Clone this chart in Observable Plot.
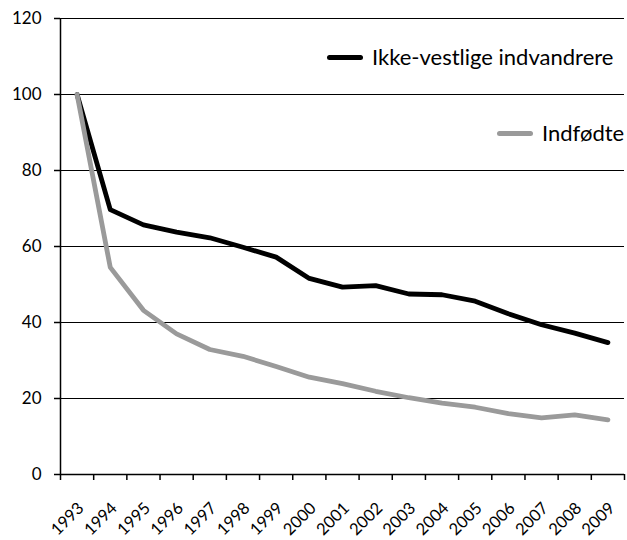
<!DOCTYPE html>
<html>
<head>
<meta charset="utf-8">
<script src="https://cdn.jsdelivr.net/npm/d3@7"></script>
<script src="https://cdn.jsdelivr.net/npm/@observablehq/plot@0.6"></script>
<style>
  body { margin: 0; background: #fff; }
  #wrap { position: relative; width: 627px; height: 540px; font-family: Lato, "Open Sans", sans-serif; }
  .leg { position: absolute; display: flex; align-items: center; font-size: 22px; color: #000; white-space: nowrap; line-height: 26px; }
  .leg .sw { width: 36px; height: 5px; border-radius: 3px; margin-right: 9px; }
</style>
</head>
<body>
<div id="wrap"></div>
<script>
const years = [1993,1994,1995,1996,1997,1998,1999,2000,2001,2002,2003,2004,2005,2006,2007,2008,2009];
const ikkeVestlige = [100,69.7,65.7,63.8,62.3,59.8,57.2,51.6,49.3,49.7,47.5,47.3,45.6,42.3,39.4,37.2,34.7];
const indfodte = [100,54.5,43.2,37.0,32.9,31.1,28.4,25.6,23.9,21.9,20.2,18.8,17.7,16.0,14.9,15.7,14.4];
const seriesNames = ["Ikke-vestlige indvandrere", "Indfødte"];
const seriesColors = ["#000000", "#9a9a9a"];
const yTicks = [0,20,40,60,80,100,120];

const rows = [];
years.forEach((yr, i) => {
  rows.push({year: yr, value: ikkeVestlige[i], series: seriesNames[0]});
  rows.push({year: yr, value: indfodte[i], series: seriesNames[1]});
});
const boundaries = years.map(y => y - 0.5).concat([years[years.length - 1] + 0.5]);

const chart = Plot.plot({
  width: 627,
  height: 540,
  marginLeft: 60,
  marginRight: 3,
  marginTop: 18,
  marginBottom: 66,
  style: {fontFamily: "Lato, 'Open Sans', sans-serif", fontSize: "17px", color: "#000", background: "#fff"},
  x: {type: "linear", domain: [years[0] - 0.5, years[years.length - 1] + 0.5]},
  y: {domain: [0, 120]},
  color: {domain: seriesNames, range: seriesColors},
  marks: [
    Plot.gridY(yTicks.filter(d => d > 0), {stroke: "#000", strokeOpacity: 1, strokeWidth: 1.2}),
    Plot.ruleY([0], {stroke: "#000", strokeWidth: 1.5}),
    Plot.ruleX([years[0] - 0.5], {stroke: "#000", strokeWidth: 1.5}),
    Plot.axisY({ticks: yTicks, tickSize: 6, tickPadding: 13, strokeWidth: 1.5, fontSize: 17, label: null}),
    Plot.axisX({ticks: boundaries, tickSize: 6, tickFormat: () => "", strokeWidth: 1.5, label: null}),
    Plot.axisX({ticks: years, tickSize: 0, tickFormat: d => String(d), tickRotate: -45, textAnchor: "end", tickPadding: 31, dx: 4, fontSize: 16.5, label: null}),
    Plot.line(rows, {x: "year", y: "value", z: "series", stroke: "series", strokeWidth: 4.8, strokeLinejoin: "round", strokeLinecap: "round"})
  ]
});
const wrap = document.getElementById("wrap");
wrap.appendChild(chart);

const legPos = [{left: 327, top: 44}, {left: 497, top: 120}];
seriesNames.forEach((name, i) => {
  const d = document.createElement("div");
  d.className = "leg";
  d.style.left = legPos[i].left + "px";
  d.style.top = legPos[i].top + "px";
  const sw = document.createElement("span");
  sw.className = "sw";
  sw.style.background = seriesColors[i];
  const t = document.createElement("span");
  t.textContent = name;
  d.appendChild(sw); d.appendChild(t);
  wrap.appendChild(d);
});
</script>
</body>
</html>
